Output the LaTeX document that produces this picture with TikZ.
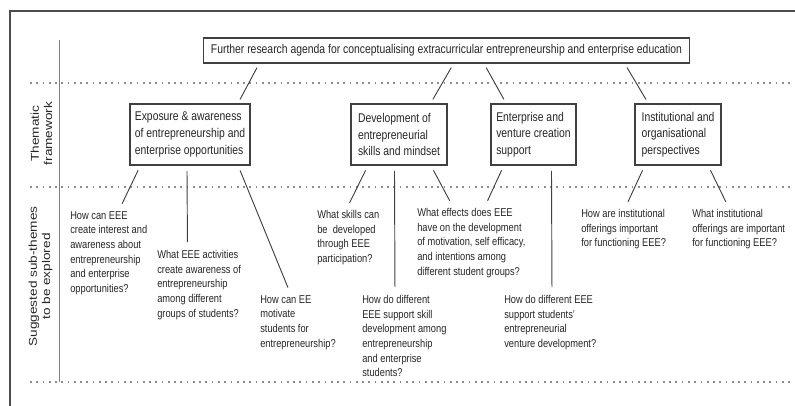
\documentclass[tikz,border=0pt]{standalone}
\usepackage{fontspec}
\setmainfont{Liberation Sans}[FakeStretch=0.82]
\newfontfamily\sidefont{Liberation Sans}[FakeStretch=1.2]
\usetikzlibrary{calc}

\begin{document}
\begin{tikzpicture}[x=0.75pt, y=-0.75pt,
	 every node/.append style={text=black!85},
	 link/.style={draw=black!75, line width=0.7pt, shorten <=3.5pt, shorten >=3.5pt},
	 qlink/.style={link, shorten <=4pt, shorten >=6pt}]

	 % style of the boxes, questions and bands
	 \tikzstyle{topic}=[draw=black!75, line width=0.8pt, align=left, minimum height=45.75pt, font=\fontsize{9.5}{12.5}\selectfont]
	 \tikzstyle{quest}=[anchor=north west, inner sep=0pt, align=left, font=\fontsize{8.5}{11}\selectfont]
	 \tikzstyle{side}=[rotate=90, align=center, font=\sidefont\fontsize{8.5}{10}\selectfont]
	 \tikzstyle{band}=[draw=black!45, line width=1.1pt, dash pattern=on 1.3pt off 3.4pt]

	 \useasboundingbox (0,0) rectangle (795,406);

	 % frame and bands
	 \draw [black!70, line width=1.1pt] (10,406) -- (10,11) -- (795,11);
	 \draw [black!50, line width=0.6pt] (59,40) -- (59,382);
	 \foreach \y in {83,187,382}
	 	\draw [band] (30,\y) -- (790,\y);

	 \node [side] (thema) at (41.5,133.5) {Thematic\\framework};
	 \node [side] (subth) at (40.5,276.5) {Suggested sub-themes\\to be explored};

	 % agenda and themes
	 \node [topic, minimum height=18.75pt, minimum width=365pt] (agenda) at (446.5,50.5)
	 	{Further research agenda for conceptualising extracurricular entrepreneurship and enterprise education};
	 \node [topic, minimum width=90pt] (expo) at (190,134.5)
	 	{Exposure \& awareness\\of entrepreneurship and\\enterprise opportunities};
	 \node [topic, minimum width=72pt] (devel) at (399,134.5)
	 	{Development of\\entrepreneurial\\skills and mindset};
	 \node [topic, minimum width=63.75pt] (ventu) at (533.5,134.5)
	 	{Enterprise and\\venture creation\\support};
	 \node [topic, minimum width=64.5pt] (instit) at (678,134.5)
	 	{Institutional and\\organisational\\perspectives};

	 % sub-themes
	 \node [quest] (q1) at (70,211) {How can EEE\\create interest and\\awareness about\\entrepreneurship\\and enterprise\\opportunities?};
	 \node [quest] (q2) at (157,250) {What EEE activities\\create awareness of\\entrepreneurship\\among different\\groups of students?};
	 \node [quest] (q3) at (260,295) {How can EE\\motivate\\students for\\entrepreneurship?};
	 \node [quest] (q4) at (317,210) {What skills can\\be\ \ developed\\through EEE\\participation?};
	 \node [quest] (q5) at (362,295) {How do different\\EEE support skill\\development among\\entrepreneurship\\and enterprise\\students?};
	 \node [quest] (q6) at (417,208) {What effects does EEE\\have on the development\\of motivation, self efficacy,\\and intentions among\\different student groups?};
	 \node [quest] (q7) at (504,295) {How do different EEE\\support students'\\entrepreneurial\\venture development?};
	 \node [quest] (q8) at (581,209) {How are institutional\\offerings important\\for functioning EEE?};
	 \node [quest] (q9) at (692,209) {What institutional\\offerings are important\\for functioning EEE?};

	 % connectors
	 \draw [link] ($(agenda.south west)+(56.6,0)$) -- ($(expo.north west)+(108.4,0)$);
	 \draw [link] ($(agenda.south west)+(251,0)$) -- ($(devel.north west)+(80,0)$);
	 \draw [link] ($(agenda.south west)+(281.3,0)$) -- ($(ventu.north west)+(15.7,0)$);
	 \draw [link] ($(agenda.south west)+(422,0)$) -- ($(instit.north west)+(13.9,0)$);

	 \draw [qlink] ($(expo.south west)+(10.9,0)$) -- ($(q1.north west)+(48.6,0)$);
	 \draw [qlink] ($(expo.south west)+(57.5,0)$) -- ($(q2.north west)+(30.5,0)$);
	 \draw [qlink] ($(expo.south west)+(108.6,0)$) -- ($(q3.north west)+(31,0)$);
	 \draw [qlink] ($(devel.south west)+(17.5,0)$) -- ($(q4.north west)+(29,0)$);
	 \draw [qlink] ($(devel.south west)+(44,0)$) -- ($(q5.north west)+(33,0)$);
	 \draw [qlink] ($(devel.south west)+(80.4,0)$) -- ($(q6.north west)+(36.6,0)$);
	 \draw [qlink] ($(ventu.south west)+(13.3,0)$) -- ($(q6.north west)+(67.2,0)$);
	 \draw [qlink] ($(ventu.south west)+(61,0)$) -- ($(q7.north west)+(48,0)$);
	 \draw [qlink] ($(instit.south west)+(10.3,0)$) -- ($(q8.north west)+(43.7,0)$);
	 \draw [qlink] ($(instit.south west)+(73.7,0)$) -- ($(q9.north west)+(37.3,0)$);

\end{tikzpicture}
\end{document}
